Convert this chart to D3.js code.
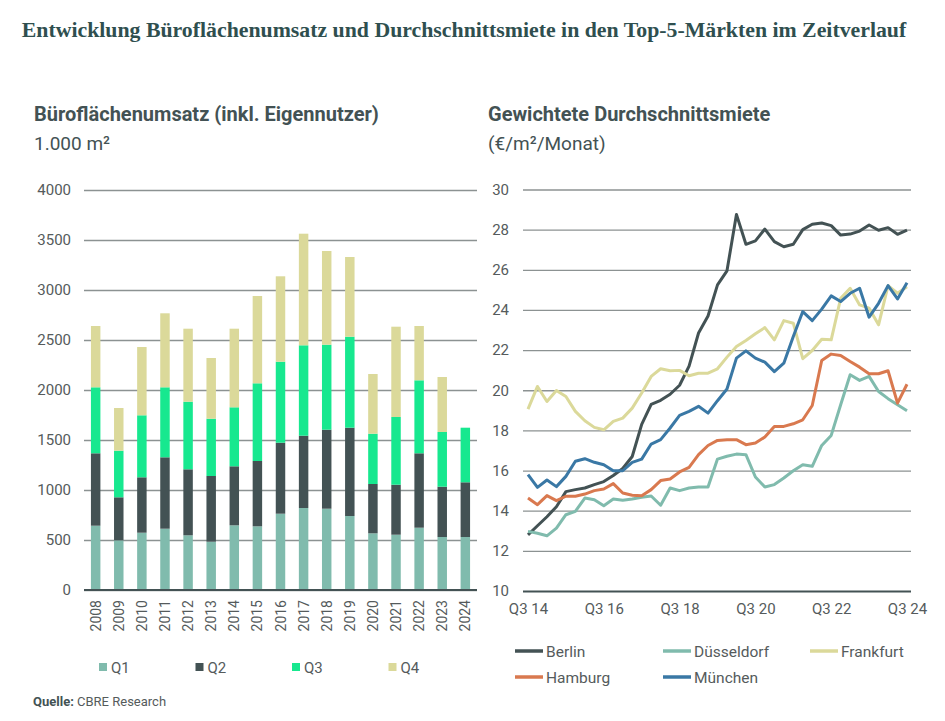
<!DOCTYPE html>
<html>
<head>
<meta charset="utf-8">
<script src="https://cdn.jsdelivr.net/npm/d3@7"></script>
<style>
  body { margin: 0; background: #fff; }
  svg { display: block; }
  text { font-family: Roboto, "Open Sans", sans-serif; }
</style>
</head>
<body>
<div id="chart"></div>
<script>
// Büroflächenumsatz, 1.000 m² je Quartal
const years = ["2008","2009","2010","2011","2012","2013","2014","2015","2016","2017","2018","2019","2020","2021","2022","2023","2024"];
const q1 = [643, 497, 573, 613, 547, 483, 647, 637, 763, 820, 813, 740, 567, 553, 623, 530, 530];
const q2 = [724, 430, 554, 714, 660, 657, 590, 653, 710, 723, 790, 883, 493, 500, 744, 503, 547];
const q3 = [660, 466, 620, 700, 676, 573, 590, 777, 810, 904, 850, 910, 503, 677, 730, 547, 546];
const q4 = [613, 427, 683, 740, 730, 607, 786, 873, 854, 1116, 937, 797, 597, 903, 543, 550, 0];
const quarterKeys = ["Q1", "Q2", "Q3", "Q4"];
const quarterColors = ["#80bbad", "#435254", "#17e88f", "#dbd99a"];
const barTicks = [0, 500, 1000, 1500, 2000, 2500, 3000, 3500, 4000];

// Gewichtete Durchschnittsmiete, €/m²/Monat, Q3 2014 bis Q3 2024
const quarters = [];
for (let y = 14; y <= 24; y++) for (let q = 1; q <= 4; q++) {
  if ((y === 14 && q < 3) || (y === 24 && q > 3)) continue;
  quarters.push(`Q${q} ${y}`);
}
const quarterTicks = ["Q3 14", "Q3 16", "Q3 18", "Q3 20", "Q3 22", "Q3 24"];
const rentTicks = [10, 12, 14, 16, 18, 20, 22, 24, 26, 28, 30];
const cities = ["Berlin", "Düsseldorf", "Frankfurt", "Hamburg", "München"];
const cityColors = ["#435254", "#80bbad", "#dbd99a", "#d9794f", "#3a78a5"];
const berlin = [12.8,13.25,13.7,14.2,14.95,15.05,15.13,15.3,15.45,15.75,16.1,16.7,18.3,19.3,19.5,19.8,20.25,21.2,22.85,23.7,25.25,25.95,28.76,27.27,27.44,28.03,27.4,27.15,27.27,28.0,28.27,28.33,28.2,27.73,27.78,27.93,28.23,27.97,28.1,27.77,27.98];
const duesseldorf = [12.97,12.88,12.75,13.13,13.8,13.97,14.63,14.55,14.25,14.58,14.52,14.58,14.67,14.73,14.27,15.13,15.0,15.13,15.18,15.18,16.57,16.71,16.82,16.79,15.68,15.18,15.3,15.63,15.99,16.29,16.21,17.25,17.75,19.28,20.77,20.49,20.69,19.94,19.58,19.28,18.98];
const frankfurt = [19.06,20.19,19.44,19.99,19.69,18.95,18.48,18.15,18.03,18.45,18.61,19.11,19.86,20.69,21.07,20.97,20.99,20.72,20.85,20.85,21.07,21.65,22.18,22.48,22.81,23.12,22.51,23.47,23.34,21.57,21.98,22.54,22.51,24.58,25.08,24.25,24.09,23.26,25.21,24.83,25.16];
const hamburg = [14.63,14.3,14.75,14.5,14.72,14.72,14.83,15.0,15.08,15.35,14.88,14.77,14.75,15.05,15.5,15.58,15.93,16.16,16.79,17.25,17.5,17.54,17.54,17.29,17.37,17.67,18.2,18.2,18.33,18.53,19.24,21.48,21.8,21.73,21.43,21.15,20.82,20.82,20.97,19.36,20.3];
const muenchen = [15.8,15.16,15.53,15.2,15.71,16.46,16.59,16.41,16.29,15.99,15.99,16.41,16.57,17.32,17.54,18.12,18.75,18.95,19.2,18.86,19.48,20.06,21.6,21.96,21.6,21.4,20.93,21.35,22.68,23.92,23.47,24.04,24.7,24.42,24.83,25.08,23.64,24.33,25.21,24.55,25.36];
const citySeries = [berlin, duesseldorf, frankfurt, hamburg, muenchen];

const textColor = "#435254";
const tickColor = "#555b5c";
const gridColor = "#8c9292";

const svg = d3.select("#chart").append("svg")
  .attr("width", 945)
  .attr("height", 721);

svg.append("text")
  .attr("x", 464)
  .attr("y", 37)
  .attr("text-anchor", "middle")
  .style("font-family", "'Liberation Serif', 'DejaVu Serif', serif")
  .style("font-weight", "bold")
  .style("font-size", "21.8px")
  .attr("fill", "#2f4f4f")
  .text("Entwicklung Büroflächenumsatz und Durchschnittsmiete in den Top-5-Märkten im Zeitverlauf");

// ---------- left: stacked bars ----------
svg.append("text").attr("x", 34).attr("y", 121)
  .style("font-size", "20px").style("font-weight", "bold").attr("fill", textColor)
  .text("Büroflächenumsatz (inkl. Eigennutzer)");
svg.append("text").attr("x", 34).attr("y", 150)
  .style("font-size", "19px").attr("fill", textColor)
  .text("1.000 m²");

const x = d3.scaleBand()
  .domain(years)
  .range([84, 477])
  .paddingInner(0.59)
  .paddingOuter(0.3);
const y = d3.scaleLinear()
  .domain([0, 4000])
  .range([590, 190]);

const yAxisG = svg.append("g")
  .attr("transform", "translate(84,0)")
  .call(d3.axisLeft(y).tickValues(barTicks).tickSize(-393).tickPadding(13).tickFormat(d3.format("d")));
yAxisG.select(".domain").remove();
yAxisG.selectAll("line").attr("stroke", gridColor).attr("stroke-width", 1.3);
yAxisG.selectAll("text").style("font-size", "15px").attr("fill", tickColor);

const rows = years.map((yr, i) => ({ year: yr, Q1: q1[i], Q2: q2[i], Q3: q3[i], Q4: q4[i] }));
const stacked = d3.stack().keys(quarterKeys)(rows);

svg.append("g").selectAll("g")
  .data(stacked)
  .join("g")
    .attr("fill", (d, i) => quarterColors[i])
  .selectAll("rect")
  .data(d => d)
  .join("rect")
    .attr("x", d => x(d.data.year))
    .attr("y", d => y(d[1]))
    .attr("width", x.bandwidth())
    .attr("height", d => y(d[0]) - y(d[1]));

svg.append("line")
  .attr("x1", 84).attr("x2", 477)
  .attr("y1", y(0)).attr("y2", y(0))
  .attr("stroke", textColor).attr("stroke-width", 2);

const xAxisG = svg.append("g")
  .attr("transform", `translate(0,${y(0)})`)
  .call(d3.axisBottom(x).tickSize(0).tickPadding(0));
xAxisG.select(".domain").remove();
xAxisG.selectAll("text")
  .attr("transform", "rotate(-90)")
  .attr("text-anchor", "end")
  .attr("dominant-baseline", "central")
  .attr("x", -10)
  .attr("y", 0)
  .attr("dy", null)
  .style("font-size", "14px")
  .attr("fill", tickColor);

const barLegend = svg.append("g").selectAll("g")
  .data(quarterKeys)
  .join("g")
    .attr("transform", (d, i) => `translate(${99 + i * 96.5},663)`);
barLegend.append("rect")
  .attr("width", 8).attr("height", 8)
  .attr("fill", (d, i) => quarterColors[i]);
barLegend.append("text")
  .attr("x", 12).attr("y", 9.5)
  .style("font-size", "15px").attr("fill", tickColor)
  .text(d => d);

const source = svg.append("text").attr("x", 33).attr("y", 706)
  .style("font-size", "13px").attr("fill", tickColor);
source.append("tspan").style("font-weight", "bold").attr("fill", textColor).text("Quelle:");
source.append("tspan").text(" CBRE Research");

// ---------- right: rent lines ----------
svg.append("text").attr("x", 488).attr("y", 121)
  .style("font-size", "20px").style("font-weight", "bold").attr("fill", textColor)
  .text("Gewichtete Durchschnittsmiete");
svg.append("text").attr("x", 488).attr("y", 150)
  .style("font-size", "19px").attr("fill", textColor)
  .text("(€/m²/Monat)");

const xq = d3.scalePoint()
  .domain(quarters)
  .range([528, 907]);
const yr = d3.scaleLinear()
  .domain([10, 30])
  .range([591, 189.5]);

const yrAxisG = svg.append("g")
  .attr("transform", "translate(523,0)")
  .call(d3.axisLeft(yr).tickValues(rentTicks).tickSize(-388).tickPadding(14));
yrAxisG.select(".domain").remove();
yrAxisG.selectAll("line").attr("stroke", gridColor).attr("stroke-width", 1.3);
yrAxisG.selectAll("text").style("font-size", "15px").attr("fill", tickColor);
yrAxisG.selectAll(".tick").filter(d => d === 10).select("line")
  .attr("stroke", textColor).attr("stroke-width", 2);

const xqAxisG = svg.append("g")
  .attr("transform", `translate(0,${yr(10)})`)
  .call(d3.axisBottom(xq).tickValues(quarterTicks).tickSize(0).tickPadding(12));
xqAxisG.select(".domain").remove();
xqAxisG.selectAll("text").style("font-size", "15px").attr("fill", tickColor);

const line = d3.line()
  .x((d, i) => xq(quarters[i]))
  .y(d => yr(d));

svg.append("g").selectAll("path")
  .data(citySeries)
  .join("path")
    .attr("fill", "none")
    .attr("stroke", (d, i) => cityColors[i])
    .attr("stroke-width", 3)
    .attr("stroke-linejoin", "round")
    .attr("d", line);

const legendPos = [[515, 651], [663, 651], [810, 651], [515, 677], [663, 677]];
const lineLegend = svg.append("g").selectAll("g")
  .data(cities)
  .join("g")
    .attr("transform", (d, i) => `translate(${legendPos[i][0]},${legendPos[i][1]})`);
lineLegend.append("line")
  .attr("x2", 28)
  .attr("stroke", (d, i) => cityColors[i])
  .attr("stroke-width", 3.5);
lineLegend.append("text")
  .attr("x", 31).attr("y", 5.5)
  .style("font-size", "15.5px").attr("fill", tickColor)
  .text(d => d);
</script>
</body>
</html>
